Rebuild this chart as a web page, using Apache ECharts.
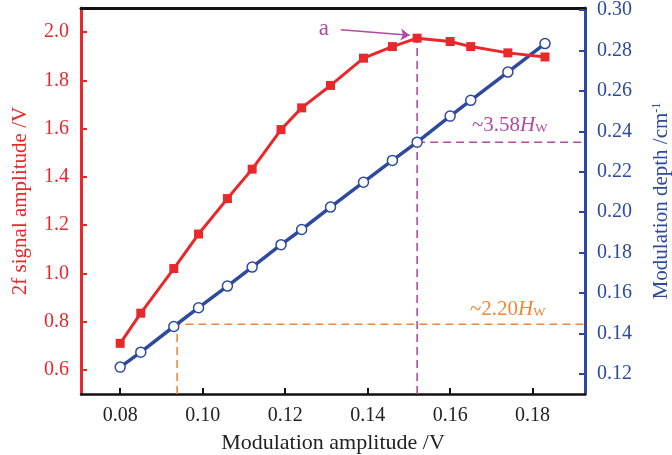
<!DOCTYPE html>
<html>
<head>
<meta charset="utf-8">
<script src="https://cdn.jsdelivr.net/npm/echarts@6/dist/echarts.min.js"></script>
<style>html,body{margin:0;padding:0;background:#fff}#c{width:672px;height:455px}</style>
</head>
<body>
<div id="c"></div>
<script>
// ---- data ----
var modAmp = [0.080, 0.085, 0.093, 0.099, 0.106, 0.112, 0.119, 0.124, 0.131, 0.139, 0.146, 0.152, 0.160, 0.165, 0.174, 0.183];
var signal2f = [0.71, 0.835, 1.02, 1.163, 1.31, 1.432, 1.596, 1.686, 1.779, 1.892, 1.94, 1.975, 1.961, 1.94, 1.914, 1.897];
var modDepth = [0.1233, 0.1307, 0.1434, 0.1527, 0.1634, 0.1728, 0.1839, 0.1914, 0.2025, 0.2148, 0.2256, 0.2346, 0.2475, 0.2553, 0.2693, 0.2834];
var xTicks = [0.08, 0.10, 0.12, 0.14, 0.16, 0.18];
var yLeftTicks = [0.6, 0.8, 1.0, 1.2, 1.4, 1.6, 1.8, 2.0];
var yRightTicks = [0.12, 0.14, 0.16, 0.18, 0.20, 0.22, 0.24, 0.26, 0.28, 0.30];
// annotation guides
var orangeX = 0.0938, orangeDepth = 0.1445;
var purpleX = 0.152, purpleSignal = 1.975, purpleDepth = 0.2346;
var xMin = 0.0705, xMax = 0.1927;
var yLMin = 0.5, yLMax = 2.1, yRMin = 0.11, yRMax = 0.301;
var arrowFrom = [0.1335, 2.010], arrowTo = [0.1502, 1.987];

var RED = '#E8282B', BLUE = '#2D4A9E', ORANGE = '#F0883A', PURPLE = '#B04AA6';
var FONT = 'Liberation Serif';

function zip(a, b) { return a.map(function (v, i) { return [v, b[i]]; }); }
var dash = [8, 5];

var chart = echarts.init(document.getElementById('c'));
chart.setOption({
  animation: false,
  textStyle: { fontFamily: FONT },
  grid: { left: 81, right: 87, top: 8, bottom: 61, containLabel: false, outerBoundsMode: 'none' },
  xAxis: [{
    type: 'value', position: 'bottom', min: xMin, max: xMax,
    axisLine: { lineStyle: { color: '#111', width: 2.5 } },
    axisTick: { inside: true, length: 6, lineStyle: { color: '#111', width: 2 }, customValues: xTicks },
    axisLabel: { customValues: xTicks, formatter: function (v) { return v.toFixed(2); }, color: '#222', fontSize: 20, fontFamily: FONT, margin: 12 },
    splitLine: { show: false },
    name: 'Modulation amplitude /V', nameLocation: 'middle', nameGap: 38,
    nameTextStyle: { color: '#222', fontSize: 22, fontFamily: FONT }
  }, {
    type: 'value', position: 'top', min: xMin, max: xMax,
    axisLine: { lineStyle: { color: '#111', width: 3 } },
    axisTick: { show: false }, axisLabel: { show: false }, splitLine: { show: false }
  }],
  yAxis: [{
    type: 'value', position: 'left', min: yLMin, max: yLMax,
    axisLine: { show: true, lineStyle: { color: RED, width: 3 } },
    axisTick: { show: true, inside: true, length: 6, lineStyle: { color: RED, width: 2 }, customValues: yLeftTicks },
    axisLabel: { customValues: yLeftTicks, formatter: function (v) { return v.toFixed(1); }, color: RED, fontSize: 20, fontFamily: FONT, margin: 12 },
    splitLine: { show: false },
    name: '2f signal amplitude /V', nameLocation: 'middle', nameRotate: 90, nameGap: 50,
    nameTextStyle: { color: RED, fontSize: 21, fontFamily: FONT }
  }, {
    type: 'value', position: 'right', min: yRMin, max: yRMax,
    axisLine: { show: true, lineStyle: { color: BLUE, width: 3 } },
    axisTick: { show: true, inside: true, length: 6, lineStyle: { color: BLUE, width: 2 }, customValues: yRightTicks },
    axisLabel: { customValues: yRightTicks, formatter: function (v) { return v.toFixed(2); }, color: BLUE, fontSize: 20, fontFamily: FONT, margin: 12 },
    splitLine: { show: false },
    name: 'Modulation depth /cm{sup|-1}', nameLocation: 'middle', nameRotate: 90, nameGap: 66,
    nameTextStyle: { color: BLUE, fontSize: 21, fontFamily: FONT,
      rich: { sup: { fontSize: 12, color: BLUE, fontFamily: FONT, verticalAlign: 'top', padding: [0, 0, 8, 0] } } }
  }],
  series: [
    { type: 'line', xAxisIndex: 0, yAxisIndex: 1, silent: true, symbol: 'none',
      data: [[orangeX, yRMin], [orangeX, orangeDepth], [xMax, orangeDepth]],
      lineStyle: { color: ORANGE, width: 1.6, type: dash }, z: 1 },
    { type: 'line', xAxisIndex: 0, yAxisIndex: 0, silent: true, symbol: 'none',
      data: [[purpleX, yLMin], [purpleX, purpleSignal]],
      lineStyle: { color: PURPLE, width: 1.6, type: dash }, z: 1 },
    { type: 'line', xAxisIndex: 0, yAxisIndex: 1, silent: true, symbol: 'none',
      data: [[purpleX, purpleDepth], [xMax, purpleDepth]],
      lineStyle: { color: PURPLE, width: 1.6, type: dash }, z: 1 },
    { type: 'line', name: 'depth', xAxisIndex: 0, yAxisIndex: 1, data: zip(modAmp, modDepth),
      symbol: 'circle', symbolSize: 10, lineStyle: { color: BLUE, width: 3.5 },
      itemStyle: { color: '#fff', borderColor: BLUE, borderWidth: 1.5 }, z: 3 },
    { type: 'line', name: 'signal', xAxisIndex: 0, yAxisIndex: 0, data: zip(modAmp, signal2f),
      symbol: 'rect', symbolSize: 9, lineStyle: { color: RED, width: 3 },
      itemStyle: { color: RED }, z: 4 },
    { type: 'line', xAxisIndex: 0, yAxisIndex: 0, silent: true, symbol: 'none', data: [], z: 6,
      markLine: {
        silent: true, symbol: ['none', 'arrow'], symbolSize: 9, z: 6,
        lineStyle: { color: PURPLE, width: 1.6, type: 'solid' },
        label: { show: true, position: 'start', formatter: 'a', color: PURPLE, fontSize: 23, fontFamily: FONT, distance: 12 },
        data: [[{ coord: arrowFrom }, { coord: arrowTo }]]
      } }
  ]
});

// annotation texts
var richH = function (c) {
  return {
    n: { fontSize: 21, fill: c, fontFamily: FONT },
    h: { fontSize: 21, fill: c, fontFamily: FONT, fontStyle: 'italic' },
    w: { fontSize: 13, fill: c, fontFamily: FONT, padding: [7, 0, 0, 0] }
  };
};
chart.setOption({
  graphic: [
    { type: 'text', left: 472, top: 115, style: { text: '{n|~3.58}{h|H}{w|W}', fill: PURPLE, rich: richH(PURPLE) } },
    { type: 'text', left: 470, top: 299, style: { text: '{n|~2.20}{h|H}{w|W}', fill: ORANGE, rich: richH(ORANGE) } }
  ]
});
</script>
</body>
</html>
